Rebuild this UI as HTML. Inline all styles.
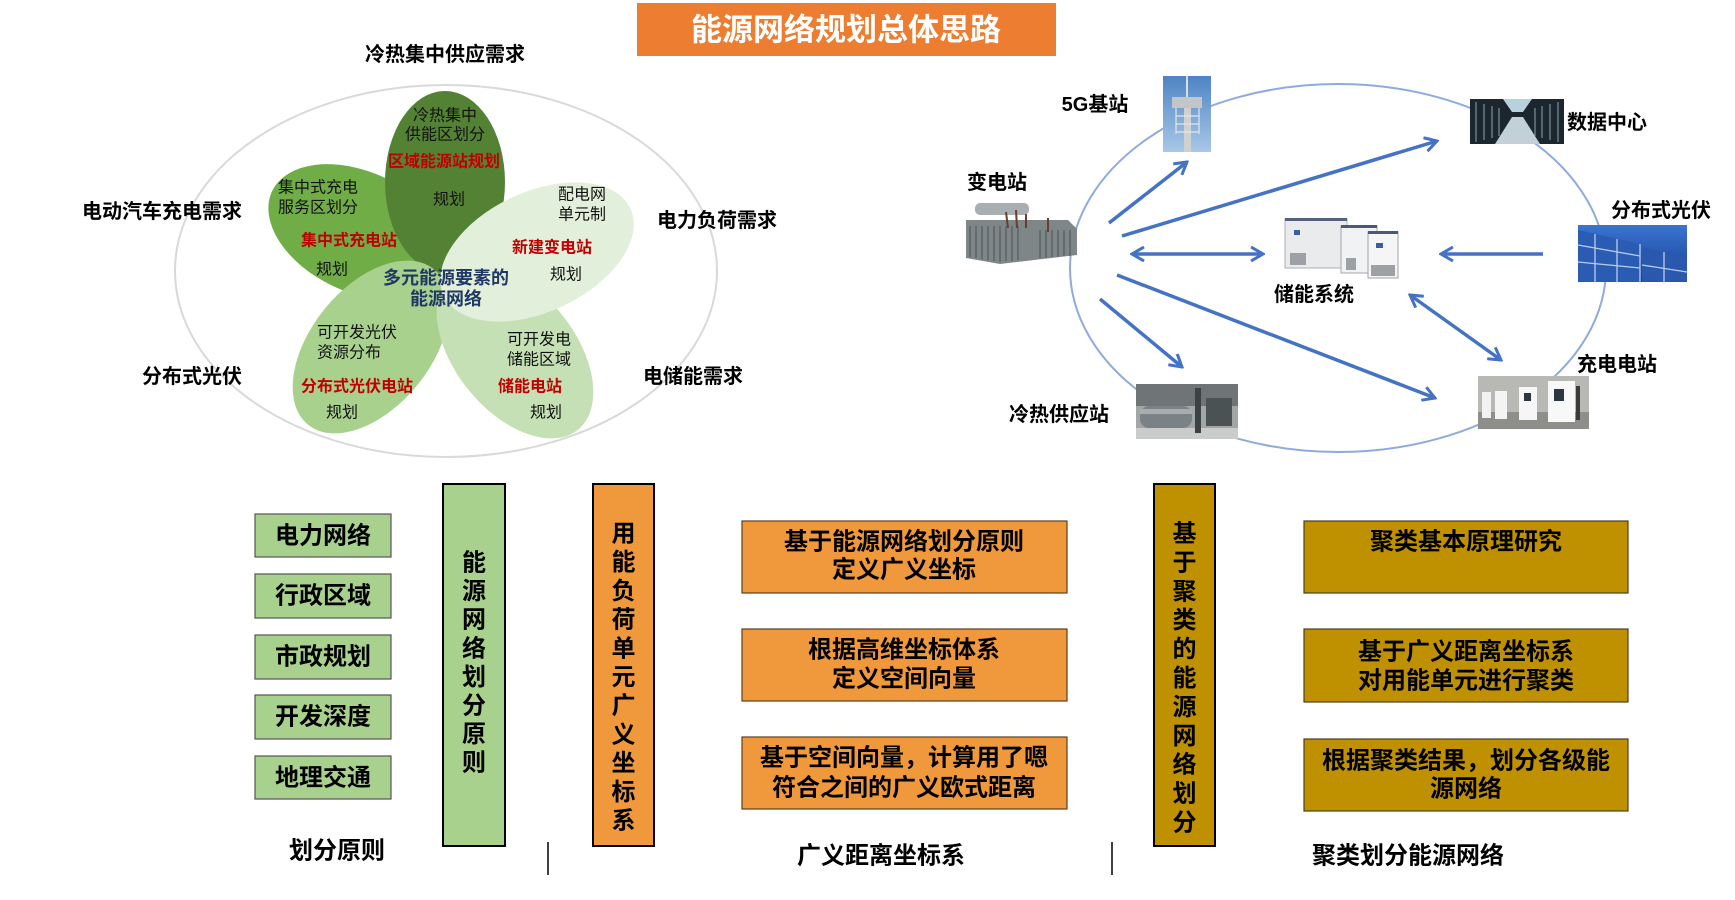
<!DOCTYPE html>
<html><head><meta charset="utf-8"><style>
html,body{margin:0;padding:0;background:#fff;}
svg{display:block;font-family:"Liberation Sans","Noto Sans CJK SC",sans-serif;}
</style></head><body>
<svg width="1735" height="900" viewBox="0 0 1735 900" xmlns="http://www.w3.org/2000/svg">
<defs>
<linearGradient id="sky" x1="0" y1="0" x2="0" y2="1"><stop offset="0" stop-color="#4e84c4"/><stop offset="1" stop-color="#a9c8e8"/></linearGradient>
<linearGradient id="sol" x1="0" y1="0" x2="0" y2="1"><stop offset="0" stop-color="#3a74d0"/><stop offset="1" stop-color="#173f94"/></linearGradient>
<marker id="ah" viewBox="0 0 16 16" refX="14" refY="8" markerWidth="16" markerHeight="16" markerUnits="userSpaceOnUse" orient="auto-start-reverse">
<path d="M2,1 L14,8 L2,15" fill="none" stroke="#4472C4" stroke-width="3"/>
</marker>
</defs>

<!-- Title -->
<rect x="637" y="3" width="419" height="53" fill="#ED7D31"/>
<text x="846" y="30" font-size="31" font-weight="bold" fill="#fff" text-anchor="middle" dominant-baseline="central">能源网络规划总体思路</text>

<!-- Left diagram -->
<ellipse cx="446" cy="271" rx="271" ry="186" fill="none" stroke="#d9d9d9" stroke-width="2"/>
<ellipse cx="359" cy="232" rx="60" ry="96" fill="#70AD47" transform="rotate(-65 359 232)"/>
<ellipse cx="445" cy="182" rx="60" ry="91" fill="#548235"/>
<ellipse cx="371" cy="347" rx="60" ry="100" fill="#A9D18E" transform="rotate(39 371 347)"/>
<ellipse cx="515" cy="352" rx="60" ry="100" fill="#C5E0B4" transform="rotate(-39 515 352)"/>
<ellipse cx="537" cy="252" rx="60" ry="103" fill="#E2EFDA" transform="rotate(65 537 252)"/>

<g font-size="16" dominant-baseline="central" fill="#111">
<text x="445" y="116" text-anchor="middle">冷热集中</text>
<text x="445" y="135" text-anchor="middle">供能区划分</text>
<text x="444" y="162" text-anchor="middle" fill="#C00000" font-weight="bold">区域能源站规划</text>
<text x="449" y="200" text-anchor="middle">规划</text>

<text x="278" y="188">集中式充电</text>
<text x="278" y="208">服务区划分</text>
<text x="349" y="241" text-anchor="middle" fill="#C00000" font-weight="bold">集中式充电站</text>
<text x="332" y="270" text-anchor="middle">规划</text>

<text x="558" y="195">配电网</text>
<text x="558" y="215">单元制</text>
<text x="552" y="248" text-anchor="middle" fill="#C00000" font-weight="bold">新建变电站</text>
<text x="566" y="275" text-anchor="middle">规划</text>

<text x="317" y="333">可开发光伏</text>
<text x="317" y="353">资源分布</text>
<text x="357" y="387" text-anchor="middle" fill="#C00000" font-weight="bold">分布式光伏电站</text>
<text x="342" y="413" text-anchor="middle">规划</text>

<text x="507" y="340">可开发电</text>
<text x="507" y="360">储能区域</text>
<text x="530" y="387" text-anchor="middle" fill="#C00000" font-weight="bold">储能电站</text>
<text x="546" y="413" text-anchor="middle">规划</text>
</g>
<g font-size="18" font-weight="bold" fill="#203864" text-anchor="middle" dominant-baseline="central">
<text x="446" y="278">多元能源要素的</text>
<text x="446" y="299">能源网络</text>
</g>
<g font-size="20" font-weight="bold" fill="#000" text-anchor="middle" dominant-baseline="central">
<text x="445" y="55">冷热集中供应需求</text>
<text x="162" y="212">电动汽车充电需求</text>
<text x="717" y="221">电力负荷需求</text>
<text x="192" y="377">分布式光伏</text>
<text x="693" y="377">电储能需求</text>
</g>

<!-- Right diagram -->
<ellipse cx="1338" cy="268" rx="268" ry="184" fill="none" stroke="#8FAADC" stroke-width="2"/>

<!-- 5G -->
<rect x="1163" y="76" width="48" height="76" fill="url(#sky)"/>
<rect x="1186" y="76" width="2" height="30" fill="#dcdcdc"/>
<rect x="1184" y="104" width="7" height="48" fill="#cfd0d0"/>
<rect x="1172" y="97" width="30" height="11" fill="#c3c6c8"/>
<g stroke="#e6e6e6" stroke-width="1.2">
<line x1="1176" y1="108" x2="1176" y2="134"/><line x1="1199" y1="108" x2="1199" y2="134"/>
<line x1="1176" y1="116" x2="1199" y2="116"/><line x1="1176" y1="124" x2="1199" y2="124"/><line x1="1176" y1="132" x2="1199" y2="132"/>
</g>
<!-- Data center -->
<rect x="1470" y="99" width="94" height="45" fill="#1c262e"/>
<g stroke="#56666f" stroke-width="2">
<line x1="1476" y1="102" x2="1476" y2="142"/><line x1="1484" y1="104" x2="1484" y2="140"/><line x1="1492" y1="106" x2="1492" y2="138"/><line x1="1499" y1="108" x2="1499" y2="136"/>
<line x1="1558" y1="102" x2="1558" y2="142"/><line x1="1550" y1="104" x2="1550" y2="140"/><line x1="1542" y1="106" x2="1542" y2="138"/><line x1="1535" y1="108" x2="1535" y2="136"/>
</g>
<polygon points="1503,99 1532,99 1523,112 1512,112" fill="#b9d0de"/>
<polygon points="1495,144 1540,144 1523,117 1512,117" fill="#c2d0d8"/>
<!-- Transformer -->
<polygon points="966,220 1068,220 1077,229 1077,255 1000,264 966,258" fill="#7e8688"/>
<g stroke="#5d6467" stroke-width="1.5">
<line x1="970" y1="226" x2="970" y2="257"/><line x1="976" y1="226" x2="976" y2="258"/><line x1="982" y1="226" x2="982" y2="259"/><line x1="988" y1="226" x2="988" y2="260"/><line x1="994" y1="226" x2="994" y2="261"/><line x1="1000" y1="226" x2="1000" y2="262"/><line x1="1006" y1="226" x2="1006" y2="261"/><line x1="1012" y1="226" x2="1012" y2="261"/><line x1="1018" y1="226" x2="1018" y2="260"/><line x1="1040" y1="230" x2="1040" y2="258"/><line x1="1046" y1="230" x2="1046" y2="258"/><line x1="1052" y1="230" x2="1052" y2="257"/><line x1="1058" y1="230" x2="1058" y2="257"/><line x1="1064" y1="230" x2="1064" y2="256"/><line x1="1070" y1="230" x2="1070" y2="256"/>
</g>
<rect x="975" y="203" width="54" height="12" rx="5" fill="#a8afb1"/>
<g stroke="#6d3d2b" stroke-width="2">
<line x1="1006" y1="212" x2="1008" y2="228"/><line x1="1016" y1="210" x2="1017" y2="228"/><line x1="1026" y1="214" x2="1026" y2="228"/><line x1="1048" y1="218" x2="1048" y2="232"/>
</g>
<!-- Storage -->
<rect x="1285" y="219" width="62" height="49" fill="#eaebed" stroke="#a9adb3"/>
<rect x="1285" y="218" width="62" height="3" fill="#55617c"/>
<rect x="1290" y="253" width="16" height="12" fill="#9da1a6"/>
<rect x="1294" y="230" width="6" height="5" fill="#3a5fa0"/>
<rect x="1341" y="226" width="36" height="47" fill="#f1f2f3" stroke="#a3a7ac"/>
<rect x="1341" y="225" width="36" height="3" fill="#4b5979"/>
<rect x="1346" y="258" width="10" height="12" fill="#9da1a6"/>
<rect x="1368" y="232" width="30" height="46" fill="#f5f5f6" stroke="#9fa3a8"/>
<rect x="1368" y="231" width="30" height="3" fill="#4b5979"/>
<rect x="1376" y="243" width="7" height="5" fill="#3a5fa0"/>
<rect x="1371" y="265" width="24" height="11" fill="#9da1a6"/>
<!-- Solar -->
<rect x="1578" y="225" width="109" height="57" fill="url(#sol)"/>
<polygon points="1578,230 1640,244 1640,282 1578,282" fill="#2b5cb4"/>
<polygon points="1642,247 1687,258 1687,282 1642,282" fill="#2a58ae"/>
<g stroke="#b9cdee" stroke-width="1.3">
<line x1="1578" y1="245" x2="1640" y2="256"/><line x1="1578" y1="262" x2="1640" y2="268"/><line x1="1595" y1="234" x2="1595" y2="282"/><line x1="1617" y1="239" x2="1617" y2="282"/><line x1="1640" y1="244" x2="1640" y2="282"/>
<line x1="1642" y1="265" x2="1687" y2="272"/><line x1="1664" y1="252" x2="1664" y2="282"/>
</g>
<!-- Charging -->
<rect x="1478" y="376" width="111" height="53" fill="#b8b9b4"/>
<rect x="1478" y="412" width="111" height="17" fill="#8e8f8a"/>
<rect x="1482" y="392" width="9" height="26" fill="#f2f2f2"/>
<rect x="1495" y="391" width="12" height="28" fill="#f4f4f4"/>
<rect x="1519" y="387" width="18" height="33" fill="#f6f6f6"/>
<rect x="1548" y="381" width="27" height="41" fill="#f8f8f8"/>
<rect x="1554" y="389" width="10" height="12" fill="#2b3640"/>
<rect x="1524" y="393" width="7" height="8" fill="#2b3640"/>
<rect x="1576" y="386" width="4" height="34" fill="#3a3a3a"/>
<!-- Cooling -->
<rect x="1136" y="384" width="102" height="55" fill="#a2a6a5"/>
<rect x="1136" y="384" width="102" height="22" fill="#6f7577"/>
<rect x="1136" y="428" width="102" height="11" fill="#c9cccb"/>
<rect x="1140" y="406" width="52" height="22" rx="9" fill="#7b8285"/>
<rect x="1140" y="409" width="52" height="5" fill="#a7adb0"/>
<rect x="1195" y="388" width="6" height="45" fill="#3c4244"/>
<rect x="1206" y="398" width="26" height="28" fill="#4b5254"/>

<!-- Arrows -->
<g stroke="#4472C4" stroke-width="3.5" fill="none">
<line x1="1109" y1="223" x2="1187" y2="162" marker-end="url(#ah)"/>
<line x1="1122" y1="236" x2="1437" y2="141" marker-end="url(#ah)"/>
<line x1="1132" y1="254" x2="1263" y2="254" marker-start="url(#ah)" marker-end="url(#ah)"/>
<line x1="1543" y1="254" x2="1441" y2="254" marker-end="url(#ah)"/>
<line x1="1410" y1="295" x2="1501" y2="360" marker-start="url(#ah)" marker-end="url(#ah)"/>
<line x1="1117" y1="275" x2="1435" y2="398" marker-end="url(#ah)"/>
<line x1="1100" y1="299" x2="1182" y2="367" marker-end="url(#ah)"/>
</g>

<g font-size="20" font-weight="bold" fill="#000" text-anchor="middle" dominant-baseline="central">
<text x="1095" y="105">5G基站</text>
<text x="1607" y="123">数据中心</text>
<text x="997" y="183">变电站</text>
<text x="1661" y="211">分布式光伏</text>
<text x="1314" y="295">储能系统</text>
<text x="1617" y="365">充电电站</text>
<text x="1059" y="415">冷热供应站</text>
</g>

<!-- Bottom section -->
<g fill="#A9D18E" stroke="#555" stroke-width="1.2">
<rect x="255" y="514" width="136" height="43"/>
<rect x="255" y="574" width="136" height="44"/>
<rect x="255" y="635" width="136" height="44"/>
<rect x="255" y="695" width="136" height="44"/>
<rect x="255" y="756" width="136" height="43"/>
</g>
<g font-size="24" font-weight="bold" fill="#000" text-anchor="middle" dominant-baseline="central">
<text x="323" y="536">电力网络</text>
<text x="323" y="596">行政区域</text>
<text x="323" y="657">市政规划</text>
<text x="323" y="717">开发深度</text>
<text x="323" y="778">地理交通</text>
</g>

<rect x="443" y="484" width="62" height="362" fill="#A9D18E" stroke="#000" stroke-width="2"/>
<rect x="593" y="484" width="61" height="362" fill="#EF983C" stroke="#000" stroke-width="2"/>
<rect x="1154" y="484" width="61" height="362" fill="#BF9000" stroke="#000" stroke-width="2"/>

<g font-size="24" font-weight="bold" fill="#000" text-anchor="middle" dominant-baseline="central">
<text x="474" y="563">能</text><text x="474" y="591.6">源</text><text x="474" y="620.2">网</text><text x="474" y="648.8">络</text><text x="474" y="677.4">划</text><text x="474" y="706">分</text><text x="474" y="734.6">原</text><text x="474" y="763.2">则</text>

<text x="623.5" y="534">用</text><text x="623.5" y="562.7">能</text><text x="623.5" y="591.4">负</text><text x="623.5" y="620.1">荷</text><text x="623.5" y="648.8">单</text><text x="623.5" y="677.5">元</text><text x="623.5" y="706.2">广</text><text x="623.5" y="734.9">义</text><text x="623.5" y="763.6">坐</text><text x="623.5" y="792.3">标</text><text x="623.5" y="821">系</text>

<text x="1184.5" y="534">基</text><text x="1184.5" y="562.9">于</text><text x="1184.5" y="591.8">聚</text><text x="1184.5" y="620.7">类</text><text x="1184.5" y="649.6">的</text><text x="1184.5" y="678.5">能</text><text x="1184.5" y="707.4">源</text><text x="1184.5" y="736.3">网</text><text x="1184.5" y="765.2">络</text><text x="1184.5" y="794.1">划</text><text x="1184.5" y="823">分</text>
</g>

<g fill="#EF983C" stroke="#5a4020" stroke-width="1.2">
<rect x="742" y="521" width="325" height="72"/>
<rect x="742" y="629" width="325" height="72"/>
<rect x="742" y="737" width="325" height="72"/>
</g>
<g fill="#BF9000" stroke="#4a4020" stroke-width="1.2">
<rect x="1304" y="521" width="324" height="72"/>
<rect x="1304" y="629" width="324" height="73"/>
<rect x="1304" y="739" width="324" height="72"/>
</g>
<g font-size="24" font-weight="bold" fill="#000" text-anchor="middle" dominant-baseline="central">
<text x="904" y="542">基于能源网络划分原则</text>
<text x="904" y="570">定义广义坐标</text>
<text x="904" y="650">根据高维坐标体系</text>
<text x="904" y="679">定义空间向量</text>
<text x="904" y="758">基于空间向量，计算用了嗯</text>
<text x="904" y="788">符合之间的广义欧式距离</text>

<text x="1466" y="542">聚类基本原理研究</text>
<text x="1466" y="652">基于广义距离坐标系</text>
<text x="1466" y="681">对用能单元进行聚类</text>
<text x="1466" y="761">根据聚类结果，划分各级能</text>
<text x="1466" y="789">源网络</text>

<text x="337" y="851">划分原则</text>
<text x="881" y="856">广义距离坐标系</text>
<text x="1408" y="856">聚类划分能源网络</text>
</g>

<line x1="548" y1="842" x2="548" y2="875" stroke="#404040" stroke-width="2"/>
<line x1="1112" y1="842" x2="1112" y2="875" stroke="#404040" stroke-width="2"/>
</svg>
</body></html>
